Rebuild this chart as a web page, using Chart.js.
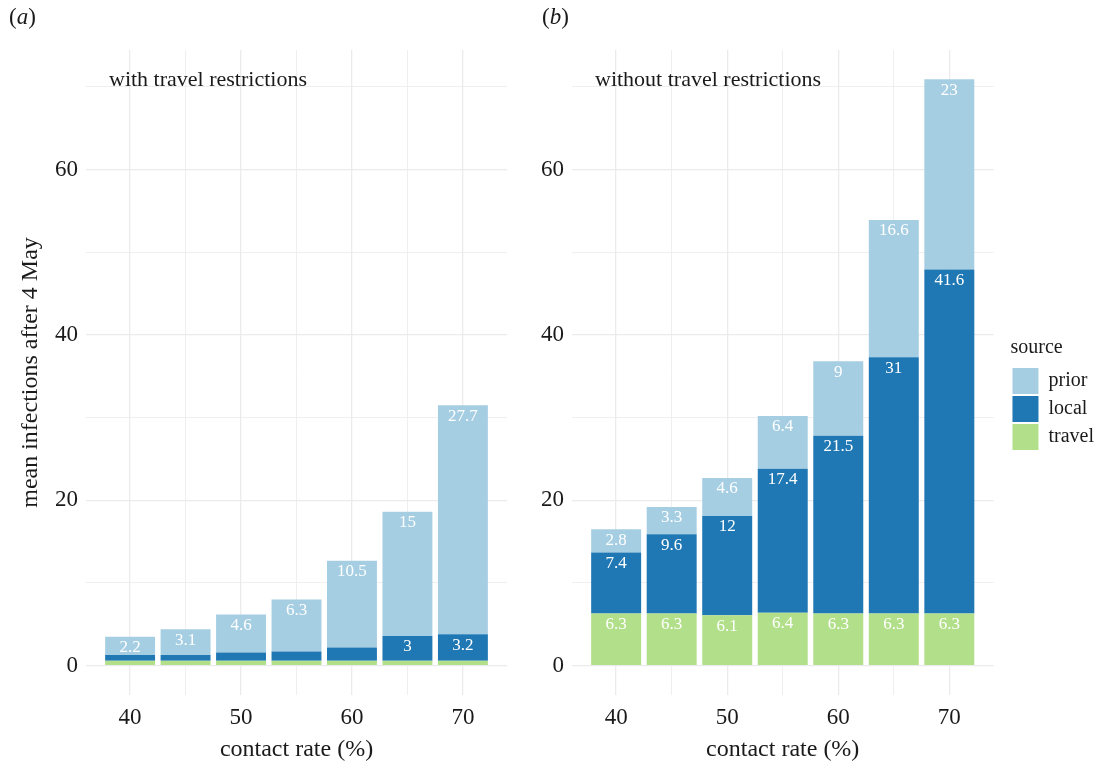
<!DOCTYPE html>
<html>
<head>
<meta charset="utf-8">
<script src="https://cdn.jsdelivr.net/npm/chart.js@4.4.0/dist/chart.umd.min.js"></script>
<style>
body { margin: 0; background: #fff; }
#wrap { position: relative; width: 1095px; height: 762px; font-family: "Liberation Serif", "Times New Roman", serif; color: #1a1a1a; }
.tag { position: absolute; top: 4px; font-size: 23px; }
.box { position: absolute; top: 0; height: 762px; }
</style>
</head>
<body>
<div id="wrap">
  <div class="box" style="left:0; width:540px"><canvas id="panel-a"></canvas></div>
  <div class="box" style="left:540px; width:555px"><canvas id="panel-b"></canvas></div>
  <div class="tag" style="left:9px">(<i>a</i>)</div>
  <div class="tag" style="left:542px">(<i>b</i>)</div>
</div>

<script>
// data
var contactRates = [40, 45, 50, 55, 60, 65, 70];
var xTicks = [40, 45, 50, 55, 60, 65, 70];
var xLabels = [40, 50, 60, 70];
var yTicks = [0, 10, 20, 30, 40, 50, 60, 70];
var yLabels = [0, 20, 40, 60];

// (a) with travel restrictions
var travelWith = [0.6, 0.6, 0.6, 0.6, 0.6, 0.6, 0.6];
var localWith  = [0.7, 0.7, 1.0, 1.1, 1.6, 3, 3.2];
var priorWith  = [2.2, 3.1, 4.6, 6.3, 10.5, 15, 27.7];

// (b) without travel restrictions
var travelWithout = [6.3, 6.3, 6.1, 6.4, 6.3, 6.3, 6.3];
var localWithout  = [7.4, 9.6, 12, 17.4, 21.5, 31, 41.6];
var priorWithout  = [2.8, 3.3, 4.6, 6.4, 9, 16.6, 23];

var colours = { prior: '#A6CEE3', local: '#1F78B4', travel: '#B2DF8A' };
var serif = '"Liberation Serif", "Times New Roman", serif';
var ink = '#1a1a1a';
var labelMin = 2;   // smaller segments get no number

// shared scales, ggplot style 5% expansion
var totals = [];
contactRates.forEach(function(c, i) {
    totals.push(travelWith[i] + localWith[i] + priorWith[i]);
    totals.push(travelWithout[i] + localWithout[i] + priorWithout[i]);
});
var yTop = Math.max.apply(null, totals);
var yMin = -0.05 * yTop, yMax = yTop * 1.05;
var half = 2.25;
var xSpan = (contactRates[contactRates.length - 1] + half) - (contactRates[0] - half);
var xMin = contactRates[0] - half - 0.05 * xSpan;
var xMax = contactRates[contactRates.length - 1] + half + 0.05 * xSpan;

function makeDatasets(travel, local, prior) {
    function ds(label, values, colour) {
        return {
            label: label,
            data: contactRates.map(function(c, i) { return { x: c, y: values[i] }; }),
            backgroundColor: colour,
            borderWidth: 0,
            barPercentage: 0.9,
            categoryPercentage: 1.0
        };
    }
    return [ds('travel', travel, colours.travel), ds('local', local, colours.local), ds('prior', prior, colours.prior)];
}

// white numbers just under the top of each segment
var barLabels = {
    id: 'barLabels',
    afterDatasetsDraw: function(chart) {
        var ctx = chart.ctx;
        ctx.save();
        ctx.font = '17px ' + serif;
        ctx.fillStyle = '#ffffff';
        ctx.textAlign = 'center';
        ctx.textBaseline = 'middle';
        chart.data.datasets.forEach(function(ds, i) {
            chart.getDatasetMeta(i).data.forEach(function(bar, j) {
                var v = ds.data[j].y;
                if (v < labelMin) return;
                ctx.fillText(String(v), bar.x, bar.y + 11);
            });
        });
        ctx.restore();
    }
};

// panel caption inside the plot, top left
var panelNote = {
    id: 'panelNote',
    afterDraw: function(chart, args, opts) {
        var ctx = chart.ctx;
        ctx.save();
        ctx.font = '22px ' + serif;
        ctx.fillStyle = ink;
        ctx.textAlign = 'left';
        ctx.textBaseline = 'alphabetic';
        ctx.fillText(opts.text, chart.chartArea.left + 23, chart.scales.y.getPixelForValue(70) - 1);
        ctx.restore();
    }
};

// push the legend away from the plot a little (ggplot leaves a gap)
var legendGap = {
    id: 'legendGap',
    afterLayout: function(chart, args, opts) {
        var lg = chart.legend;
        if (!lg || !lg.options.display) return;
        lg.left += opts.dx; lg.right += opts.dx;
        lg.top += opts.dy; lg.bottom += opts.dy;
    }
};

function gridWidth(list) {
    return function(c) {
        return c.tick && list.indexOf(c.tick.value) >= 0 ? 1.3 : 0.8;
    };
}

function panelOptions(note, yWidth, yTitle, showLegend, padRight) {
    return {
        responsive: true,
        maintainAspectRatio: false,
        animation: false,
        layout: { padding: { top: 50, right: padRight, bottom: 0, left: 0 } },
        scales: {
            x: {
                type: 'linear',
                stacked: true,
                bounds: 'data',
                offset: false,
                min: xMin,
                max: xMax,
                afterBuildTicks: function(s) { s.ticks = xTicks.map(function(v) { return { value: v }; }); },
                afterFit: function(s) { s.height = 67; },
                ticks: {
                    autoSkip: false,
                    maxRotation: 0,
                    padding: 9,
                    color: ink,
                    font: { family: serif, size: 23 },
                    callback: function(v) { return xLabels.indexOf(v) >= 0 ? String(v) : ''; }
                },
                grid: { color: '#ebebeb', lineWidth: gridWidth(xLabels), drawTicks: false, offset: false },
                border: { display: false },
                title: { display: true, text: 'contact rate (%)', color: ink, font: { family: serif, size: 24, lineHeight: 1 }, padding: { top: 0, bottom: 0 } }
            },
            y: {
                stacked: true,
                bounds: 'data',
                min: yMin,
                max: yMax,
                afterBuildTicks: function(s) { s.ticks = yTicks.map(function(v) { return { value: v }; }); },
                afterFit: function(s) { s.width = yWidth; },
                ticks: {
                    autoSkip: false,
                    padding: 8,
                    color: ink,
                    font: { family: serif, size: 23 },
                    callback: function(v) { return yLabels.indexOf(v) >= 0 ? String(v) : ''; }
                },
                grid: { color: '#ebebeb', lineWidth: gridWidth(yLabels), drawTicks: false },
                border: { display: false },
                title: { display: yTitle, text: 'mean infections after 4 May', color: ink, font: { family: serif, size: 24, lineHeight: 1.2 }, padding: { top: 16, bottom: 0 } }
            }
        },
        plugins: {
            tooltip: { enabled: false },
            panelNote: { text: note },
            legendGap: { dx: 17, dy: -11 },
            legend: {
                display: showLegend,
                position: 'right',
                align: 'center',
                reverse: true,
                title: { display: true, text: 'source', position: 'start', color: ink, font: { family: serif, size: 20 }, padding: { top: 0, bottom: 4 } },
                labels: { boxWidth: 26, boxHeight: 26, padding: 2, color: ink, font: { family: serif, size: 20 } }
            }
        }
    };
}

new Chart(document.getElementById('panel-a'), {
    type: 'bar',
    data: { datasets: makeDatasets(travelWith, localWith, priorWith) },
    options: panelOptions('with travel restrictions', 86, true, false, 33),
    plugins: [barLabels, panelNote]
});

new Chart(document.getElementById('panel-b'), {
    type: 'bar',
    data: { datasets: makeDatasets(travelWithout, localWithout, priorWithout) },
    options: panelOptions('without travel restrictions', 32, false, true, 8),
    plugins: [barLabels, panelNote, legendGap]
});
</script>
</body>
</html>
